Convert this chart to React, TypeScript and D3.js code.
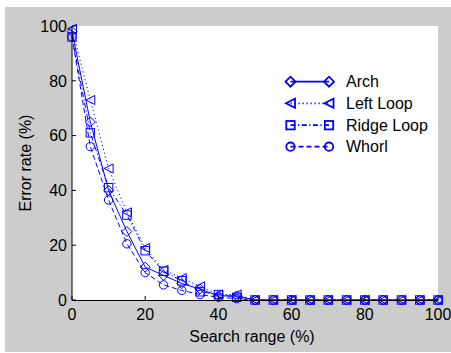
import React from "react";
import * as d3 from "d3";

const searchRange = [0, 5, 10, 15, 20, 25, 30, 35, 40, 45, 50, 55, 60, 65, 70, 75, 80, 85, 90, 95, 100];
const arch = [98, 65, 40, 25, 12, 9, 6, 4, 1.5, 1.5, 0, 0, 0, 0, 0, 0, 0, 0, 0, 0, 0];
const leftLoop = [99, 73, 48, 32, 19, 11, 8, 5, 2, 2, 0, 0, 0, 0, 0, 0, 0, 0, 0, 0, 0];
const ridgeLoop = [96, 61, 41, 31, 18, 10.5, 7, 3, 2, 1, 0, 0, 0, 0, 0, 0, 0, 0, 0, 0, 0];
const whorl = [96, 56, 36.5, 20.5, 10, 5.5, 3.5, 2, 1, 0.5, 0, 0, 0, 0, 0, 0, 0, 0, 0, 0, 0];
const seriesNames = ["Arch", "Left Loop", "Ridge Loop", "Whorl"];
const xTicks = [0, 20, 40, 60, 80, 100];
const yTicks = [0, 20, 40, 60, 80, 100];

const W = 451, H = 353;
const L = 72, R = 438, T = 26, B = 300;
const BLUE = "#0000ff";
const FONT = "'Liberation Sans', Arial, Helvetica, sans-serif";
const FS = 16;

type MarkerKind = "diamond" | "triangle" | "square" | "circle";

function Marker({ kind, x, y, sw = 1 }: { kind: MarkerKind; x: number; y: number; sw?: number }) {
  const common = { fill: "none", stroke: BLUE, strokeWidth: sw };
  if (kind === "diamond") {
    const s = 5;
    return <path d={`M${x - s},${y}L${x},${y - s}L${x + s},${y}L${x},${y + s}Z`} {...common} />;
  }
  if (kind === "triangle") {
    const s = 4.5;
    return <path d={`M${x - s},${y}L${x + s},${y - s}L${x + s},${y + s}Z`} {...common} />;
  }
  if (kind === "square") {
    const s = 4.2;
    return <rect x={x - s} y={y - s} width={2 * s} height={2 * s} {...common} />;
  }
  return <circle cx={x} cy={y} r={4.2} {...common} />;
}

export default function App() {
  const x = d3.scaleLinear().domain([0, 100]).range([L, R]);
  const y = d3.scaleLinear().domain([0, 100]).range([B, T]);
  const series = [
    { name: seriesNames[0], values: arch, kind: "diamond" as MarkerKind, dash: undefined },
    { name: seriesNames[1], values: leftLoop, kind: "triangle" as MarkerKind, dash: "1.2,2.8" },
    { name: seriesNames[2], values: ridgeLoop, kind: "square" as MarkerKind, dash: "5,2.5,1.2,2.5" },
    { name: seriesNames[3], values: whorl, kind: "circle" as MarkerKind, dash: "5,3" },
  ];
  const line = d3
    .line<number>()
    .x((_, i) => x(searchRange[i]))
    .y((d) => y(d));

  const legendX1 = 290.5, legendX2 = 329, legendTextX = 346;
  const legendY = [81.7, 103.3, 125.2, 146.7];

  return (
    <svg width={W} height={H} style={{ position: "absolute", left: 0, top: 0, display: "block" }} fontFamily={FONT}>
      <rect x={0} y={0} width={W} height={H} fill="#ffffff" />
      <rect x={5} y={7} width={W - 5} height={H - 8} fill="#cccccc" />
      <rect x={L} y={T} width={R - L} height={B - T} fill="#ffffff" />

      {series.map((s) => (
        <g key={s.name}>
          <path d={line(s.values) || ""} fill="none" stroke={BLUE} strokeWidth={1} strokeDasharray={s.dash} />
          {s.values.map((v, i) => (
            <Marker key={i} kind={s.kind} x={x(searchRange[i])} y={y(v)} />
          ))}
        </g>
      ))}

      {/* axes */}
      <line x1={L} y1={T} x2={L} y2={B + 0.5} stroke="#000" strokeWidth={1} />
      <line x1={L} y1={B + 0.5} x2={R} y2={B + 0.5} stroke="#000" strokeWidth={1} />
      {xTicks.map((t) => (
        <g key={"x" + t}>
          <line x1={x(t)} x2={x(t)} y1={B} y2={B - 4} stroke="#000" />
          <text x={x(t)} y={320} textAnchor="middle" fontSize={FS} fill="#000">
            {t}
          </text>
        </g>
      ))}
      {yTicks.map((t) => (
        <g key={"y" + t}>
          <line x1={L} x2={L + 4} y1={y(t)} y2={y(t)} stroke="#000" />
          <text x={67} y={y(t)} dy="0.36em" textAnchor="end" fontSize={FS} fill="#000">
            {t}
          </text>
        </g>
      ))}
      <text x={252} y={342} textAnchor="middle" fontSize={FS} fill="#000">
        Search range (%)
      </text>
      <text
        transform={`translate(31,${(T + B) / 2}) rotate(-90)`}
        textAnchor="middle"
        fontSize={FS}
        fill="#000"
      >
        Error rate (%)
      </text>

      {/* legend */}
      {series.map((s, i) => (
        <g key={"lg" + s.name}>
          <line
            x1={legendX1}
            x2={legendX2}
            y1={legendY[i]}
            y2={legendY[i]}
            stroke={BLUE}
            strokeWidth={1.8}
            strokeDasharray={s.dash}
          />
          <Marker kind={s.kind} x={legendX1} y={legendY[i]} sw={1.8} />
          <Marker kind={s.kind} x={legendX2} y={legendY[i]} sw={1.8} />
          <text x={legendTextX} y={legendY[i]} dy="0.36em" fontSize={FS} fill="#000">
            {s.name}
          </text>
        </g>
      ))}
    </svg>
  );
}
